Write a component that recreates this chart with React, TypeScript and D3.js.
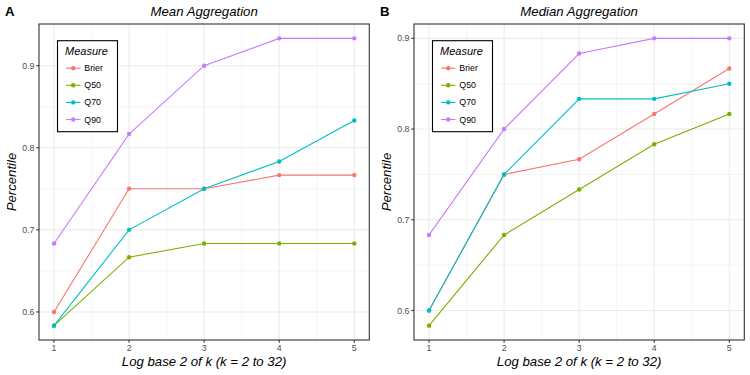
import React from "react";
import * as d3 from "d3";

const xValues = [1, 2, 3, 4, 5];
const measures = ["Brier", "Q50", "Q70", "Q90"];
const colors = ["#F8766D", "#7CAE00", "#00BFC4", "#C77CFF"];

const meanBrier = [0.6, 0.75, 0.75, 0.7667, 0.7667];
const meanQ50 = [0.5833, 0.6667, 0.6833, 0.6833, 0.6833];
const meanQ70 = [0.5833, 0.7, 0.75, 0.7833, 0.8333];
const meanQ90 = [0.6833, 0.8167, 0.9, 0.9333, 0.9333];

const medianBrier = [0.6, 0.75, 0.7667, 0.8167, 0.8667];
const medianQ50 = [0.5833, 0.6833, 0.7333, 0.7833, 0.8167];
const medianQ70 = [0.6, 0.75, 0.8333, 0.8333, 0.85];
const medianQ90 = [0.6833, 0.8, 0.8833, 0.9, 0.9];

const yTicks = [0.6, 0.7, 0.8, 0.9];
const yMinor = [0.65, 0.75, 0.85];
const xMinor = [1.5, 2.5, 3.5, 4.5];

const FONT = "'Liberation Sans', Arial, sans-serif";

type PanelProps = {
  left: number;
  right: number;
  top: number;
  bottom: number;
  title: string;
  tag: string;
  series: number[][];
};

function Panel({ left, right, top, bottom, title, tag, series }: PanelProps) {
  const all = series.flat();
  const yMin = d3.min(all)!;
  const yMax = d3.max(all)!;
  const yExp = (yMax - yMin) * 0.05;
  const x = d3.scaleLinear().domain([0.8, 5.2]).range([left, right]);
  const y = d3.scaleLinear().domain([yMin - yExp, yMax + yExp]).range([bottom, top]);
  const line = d3
    .line<number>()
    .x((_, i) => x(xValues[i]))
    .y((d) => y(d));
  const legX = left + 18.5;
  const legY = top + 16.7;
  const cx = (left + right) / 2;
  return (
    <g>
      <rect x={left} y={top} width={right - left} height={bottom - top} fill="#fff" />
      {yMinor.map((v) => (
        <line key={"ym" + v} x1={left} x2={right} y1={y(v)} y2={y(v)} stroke="#EBEBEB" strokeWidth={0.55} />
      ))}
      {xMinor.map((v) => (
        <line key={"xm" + v} x1={x(v)} x2={x(v)} y1={top} y2={bottom} stroke="#EBEBEB" strokeWidth={0.55} />
      ))}
      {yTicks.map((v) => (
        <line key={"yM" + v} x1={left} x2={right} y1={y(v)} y2={y(v)} stroke="#EBEBEB" strokeWidth={1.1} />
      ))}
      {xValues.map((v) => (
        <line key={"xM" + v} x1={x(v)} x2={x(v)} y1={top} y2={bottom} stroke="#EBEBEB" strokeWidth={1.1} />
      ))}
      {series.map((s, i) => (
        <path key={"l" + i} d={line(s)!} fill="none" stroke={colors[i]} strokeWidth={1.1} />
      ))}
      {series.map((s, i) =>
        s.map((v, j) => (
          <circle key={"p" + i + "-" + j} cx={x(xValues[j])} cy={y(v)} r={2.2} fill={colors[i]} />
        ))
      )}
      <rect x={left} y={top} width={right - left} height={bottom - top} fill="none" stroke="#333333" strokeWidth={1.1} />
      {yTicks.map((v) => (
        <g key={"yt" + v}>
          <line x1={left - 2.7} x2={left} y1={y(v)} y2={y(v)} stroke="#333333" strokeWidth={1.1} />
          <text x={left - 4.5} y={y(v)} dy="0.35em" textAnchor="end" fontSize={8.8} fill="#4D4D4D" fontFamily={FONT}>
            {v.toFixed(1)}
          </text>
        </g>
      ))}
      {xValues.map((v) => (
        <g key={"xt" + v}>
          <line x1={x(v)} x2={x(v)} y1={bottom} y2={bottom + 2.7} stroke="#333333" strokeWidth={1.1} />
          <text x={x(v)} y={bottom + 11} textAnchor="middle" fontSize={8.8} fill="#4D4D4D" fontFamily={FONT}>
            {v}
          </text>
        </g>
      ))}
      <text x={cx} y={15.5} textAnchor="middle" fontSize={13.2} fontStyle="italic" fontFamily={FONT} fill="#000">
        {title}
      </text>
      <text x={left - 34} y={16} fontSize={13.2} fontWeight="bold" fontFamily={FONT} fill="#000">
        {tag}
      </text>
      <text x={cx} y={366} textAnchor="middle" fontSize={13.2} fontStyle="italic" fontFamily={FONT} fill="#000">
        Log base 2 of k (k = 2 to 32)
      </text>
      <text
        transform={`translate(${left - 23.5},${(top + bottom) / 2}) rotate(-90)`}
        textAnchor="middle"
        fontSize={13.2}
        fontStyle="italic"
        fontFamily={FONT}
        fill="#000"
      >
        Percentile
      </text>
      <g transform={`translate(${legX},${legY})`}>
        <rect x={0} y={0} width={60} height={91} fill="#fff" stroke="#000" strokeWidth={1.1} />
        <text x={7.5} y={14.5} fontSize={11} fontStyle="italic" fontFamily={FONT} fill="#000">
          Measure
        </text>
        {measures.map((m, i) => (
          <g key={m} transform={`translate(0,${27.5 + i * 17.1})`}>
            <line x1={8.5} x2={23} y1={0} y2={0} stroke={colors[i]} strokeWidth={1.1} />
            <circle cx={15.75} cy={0} r={2.2} fill={colors[i]} />
            <text x={26.8} y={0} dy="0.35em" fontSize={8.8} fontFamily={FONT} fill="#000">
              {m}
            </text>
          </g>
        ))}
      </g>
    </g>
  );
}

export default function App() {
  return (
    <svg width={750} height={375} style={{ position: "absolute", left: 0, top: 0, background: "#fff" }}>
      <rect width={750} height={375} fill="#fff" />
      <Panel
        left={39}
        right={369.3}
        top={24}
        bottom={340}
        title="Mean Aggregation"
        tag="A"
        series={[meanBrier, meanQ50, meanQ70, meanQ90]}
      />
      <Panel
        left={414}
        right={744.3}
        top={24}
        bottom={340}
        title="Median Aggregation"
        tag="B"
        series={[medianBrier, medianQ50, medianQ70, medianQ90]}
      />
    </svg>
  );
}
